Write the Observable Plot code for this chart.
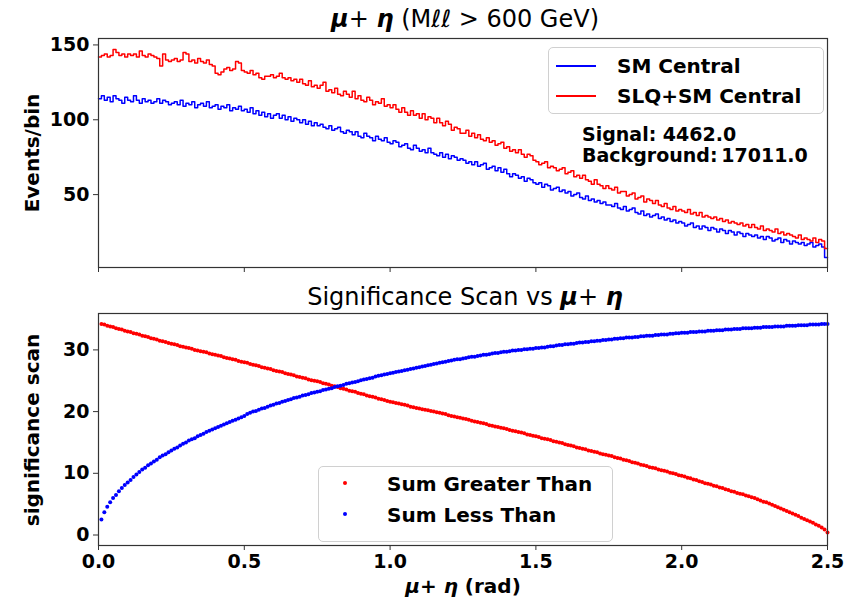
<!DOCTYPE html>
<html><head><meta charset="utf-8">
<script src="https://cdn.jsdelivr.net/npm/d3@7"></script>
<script src="https://cdn.jsdelivr.net/npm/@observablehq/plot@0.6"></script>
<style>
body{margin:0;background:#fff;}
#wrap{position:relative;width:850px;height:603px;font-family:"DejaVu Sans",sans-serif;overflow:hidden;background:#fff}
.abs{position:absolute;white-space:nowrap;color:#000;line-height:1}
.plot{position:absolute;left:0}
.ylab{position:absolute;white-space:nowrap;font-weight:bold;font-size:20px;line-height:1;transform:translate(-50%,-50%) rotate(-90deg)}
.legend{position:absolute;border:1px solid #d0d0d0;border-radius:5px;background:rgba(255,255,255,0.8)}
.bold{font-weight:bold}
</style></head><body><div id="wrap"></div>
<script>
// ---------- data ----------
const xDomain = [0, 2.5];
const xTicks = [0, 0.5, 1.0, 1.5, 2.0, 2.5];
const yTicksTop = [50, 100, 150];
const yTicksBottom = [0, 10, 20, 30];
const seriesTop = ["SM Central", "SLQ+SM Central"];
const seriesBottom = ["Sum Greater Than", "Sum Less Than"];
const signalTotal = "4462.0";
const backgroundTotal = "17011.0";

// SM Central (blue) events per bin, 250 bins of 0.01 rad
const smCentral = [
114,116,113,115,112,116,114,113,111,115,113,112,116,113,111,114,112,113,111,112,114,111,113,112,110,
111,112,110,113,109,111,110,112,108,110,111,109,112,108,109,110,107,109,108,110,106,108,107,109,106,
107,105,108,104,106,103,105,102,104,101,103,104,101,103,100,102,99,101,100,98,100,97,99,96,98,
96,97,95,94,96,93,94,95,92,91,93,92,90,92,89,88,91,89,88,86,89,87,86,88,85,
84,86,85,82,83,84,81,80,83,81,79,80,78,81,78,77,76,78,75,77,74,76,75,73,74,
73,71,72,70,72,69,70,71,67,68,69,66,68,65,67,64,62,64,63,61,62,59,61,60,58,
57,58,55,57,56,53,54,55,52,53,51,52,49,50,51,48,47,49,46,47,45,46,44,45,43,
43,42,44,41,40,42,39,40,41,38,37,39,36,37,35,36,37,34,35,33,34,32,33,31,32,
31,29,30,31,28,29,27,29,28,26,28,27,25,27,26,24,26,25,23,25,24,22,24,23,22,
23,21,22,20,22,21,19,20,21,18,20,19,17,19,18,17,18,16,17,18,15,16,17,15,8
];
// SLQ+SM Central (red) events per bin
const slqSmCentral = [
142,143,144,142,143,147,145,143,144,142,144,143,144,142,146,143,142,144,143,142,141,136,144,140,139,
140,141,139,140,145,144,139,140,138,141,139,138,140,137,136,131,130,132,134,135,133,134,139,138,133,
132,131,133,130,131,128,127,129,129,130,128,129,131,128,127,128,126,127,125,127,124,123,126,122,123,
121,123,125,119,120,118,121,117,116,119,117,115,119,114,116,113,112,115,113,110,112,111,114,109,110,
108,110,107,105,108,105,103,106,103,104,101,104,100,102,101,98,101,98,96,99,97,93,95,94,91,
91,93,89,91,88,90,87,86,88,85,86,83,84,85,81,82,79,80,78,80,77,75,77,76,73,
72,70,71,72,68,69,68,66,67,68,64,65,66,62,63,61,63,60,59,57,60,57,56,54,56,
54,53,55,51,52,52,49,50,51,47,48,49,45,47,46,44,46,43,42,44,41,40,42,39,40,
39,38,40,37,38,36,38,35,36,35,34,35,33,34,32,33,31,32,31,30,31,29,30,28,30,
28,27,29,26,27,26,25,27,24,25,23,24,23,22,21,23,20,21,20,19,21,18,20,19,14
];
// Significance scan, cut at each bin edge 0.01 ... 2.50
const sigGreater = [
34.2,34.1,33.9,33.8,33.7,33.5,33.4,33.3,33.1,33.0,32.9,32.7,32.6,32.5,32.3,32.2,32.1,31.9,31.8,31.7,31.5,31.4,31.3,31.1,31.0,
30.9,30.8,30.6,30.5,30.4,30.3,30.2,30.0,29.9,29.8,29.7,29.6,29.4,29.3,29.2,29.1,29.0,28.8,28.7,28.6,28.5,28.4,28.2,28.1,28.0,
27.9,27.7,27.6,27.5,27.4,27.2,27.1,27.0,26.9,26.7,26.6,26.5,26.4,26.2,26.1,26.0,25.9,25.7,25.6,25.5,25.4,25.2,25.1,25.0,24.9,
24.8,24.6,24.5,24.4,24.2,24.1,24.0,23.8,23.7,23.6,23.4,23.3,23.2,23.0,22.9,22.8,22.6,22.5,22.4,22.3,22.1,22.0,21.9,21.7,21.6,
21.5,21.4,21.3,21.2,21.1,21.0,20.8,20.7,20.6,20.5,20.4,20.3,20.2,20.1,20.0,19.9,19.8,19.7,19.6,19.4,19.3,19.2,19.1,19.0,18.9,
18.8,18.7,18.5,18.4,18.3,18.2,18.1,18.0,17.8,17.7,17.6,17.5,17.4,17.3,17.2,17.0,16.9,16.8,16.7,16.6,16.5,16.3,16.2,16.1,16.0,
15.9,15.7,15.6,15.5,15.4,15.2,15.1,15.0,14.9,14.7,14.6,14.5,14.4,14.2,14.1,14.0,13.9,13.7,13.6,13.5,13.4,13.2,13.1,13.0,12.9,
12.8,12.6,12.5,12.4,12.2,12.1,12.0,11.8,11.7,11.6,11.4,11.3,11.2,11.0,10.9,10.8,10.6,10.5,10.4,10.3,10.1,10.0,9.9,9.7,9.6,
9.5,9.3,9.2,9.0,8.9,8.7,8.6,8.4,8.3,8.2,8.0,7.9,7.7,7.6,7.4,7.3,7.1,7.0,6.8,6.7,6.6,6.4,6.3,6.1,6.0,
5.8,5.6,5.4,5.3,5.1,4.9,4.7,4.5,4.3,4.1,3.9,3.7,3.5,3.3,3.1,2.8,2.6,2.4,2.2,2.0,1.7,1.5,1.2,0.9,0.4
];
const sigLess = [
2.5,3.7,4.6,5.3,6.0,6.5,7.1,7.6,8.1,8.5,8.9,9.4,9.8,10.2,10.6,10.9,11.3,11.6,11.9,12.2,12.6,12.9,13.1,13.4,13.7,
14.0,14.2,14.5,14.8,15.0,15.3,15.5,15.7,16.0,16.2,16.4,16.7,16.9,17.1,17.3,17.5,17.7,17.9,18.1,18.3,18.5,18.7,18.9,19.1,19.3,
19.6,19.8,20.0,20.1,20.3,20.5,20.6,20.8,21.0,21.1,21.3,21.4,21.6,21.7,21.9,22.0,22.2,22.3,22.4,22.6,22.7,22.8,23.0,23.1,23.2,
23.3,23.5,23.6,23.7,23.8,24.0,24.1,24.2,24.3,24.5,24.6,24.7,24.8,24.9,25.1,25.2,25.3,25.4,25.5,25.7,25.8,25.9,26.0,26.1,26.2,
26.3,26.4,26.5,26.6,26.7,26.8,26.9,27.0,27.1,27.2,27.3,27.4,27.5,27.6,27.7,27.8,27.9,28.0,28.1,28.2,28.3,28.4,28.5,28.5,28.6,
28.7,28.8,28.9,28.9,29.0,29.1,29.2,29.2,29.3,29.4,29.5,29.5,29.6,29.7,29.7,29.8,29.9,29.9,30.0,30.0,30.1,30.1,30.2,30.2,30.3,
30.3,30.4,30.4,30.5,30.6,30.6,30.7,30.8,30.8,30.9,30.9,31.0,31.0,31.1,31.2,31.2,31.3,31.3,31.4,31.4,31.5,31.5,31.6,31.6,31.7,
31.7,31.8,31.8,31.9,31.9,32.0,32.0,32.0,32.1,32.1,32.2,32.2,32.3,32.3,32.3,32.4,32.4,32.5,32.5,32.5,32.6,32.6,32.7,32.7,32.8,
32.8,32.8,32.9,32.9,32.9,33.0,33.0,33.0,33.1,33.1,33.1,33.2,33.2,33.2,33.3,33.3,33.3,33.4,33.4,33.4,33.5,33.5,33.5,33.5,33.6,
33.6,33.6,33.7,33.7,33.7,33.7,33.8,33.8,33.8,33.8,33.9,33.9,33.9,33.9,34.0,34.0,34.0,34.0,34.1,34.1,34.1,34.1,34.2,34.2,34.2
];

// ---------- build ----------
const binWidth = (xDomain[1] - xDomain[0]) / smCentral.length;
function stepPoints(vals) {
  const pts = vals.map((v, i) => ({x: xDomain[0] + i * binWidth, y: v}));
  pts.push({x: xDomain[1], y: vals[vals.length - 1]});
  return pts;
}
const scanPoints = vals => vals.map((v, i) => ({x: xDomain[0] + (i + 1) * binWidth, y: v}));

const BLUE = "#0000ff", RED = "#ff0000", FRAME = "#333";
const baseStyle = {fontFamily: "DejaVu Sans, sans-serif", fontSize: "19px", fontWeight: "bold", color: "#000", background: "transparent", overflow: "visible"};

const topPlot = Plot.plot({
  width: 850, height: 280,
  marginLeft: 98, marginRight: 23, marginTop: 38, marginBottom: 13,
  x: {domain: xDomain},
  y: {domain: [1.3, 154.3]},
  style: baseStyle,
  marks: [
    Plot.line(stepPoints(smCentral), {x: "x", y: "y", curve: "step-after", stroke: BLUE, strokeWidth: 1.5}),
    Plot.line(stepPoints(slqSmCentral), {x: "x", y: "y", curve: "step-after", stroke: RED, strokeWidth: 1.5}),
    Plot.frame({stroke: FRAME, strokeWidth: 1.2}),
    Plot.axisX({ticks: xTicks, tickFormat: () => "", tickSize: 5, label: null, stroke: FRAME}),
    Plot.axisY({ticks: yTicksTop, tickSize: 5, tickPadding: 4, label: null, stroke: FRAME})
  ]
});

const bottomPlot = Plot.plot({
  width: 850, height: 313,
  marginLeft: 98, marginRight: 23, marginTop: 23, marginBottom: 58,
  x: {domain: xDomain},
  y: {domain: [-1.7, 35.9]},
  style: baseStyle,
  marks: [
    Plot.dot(scanPoints(sigGreater), {x: "x", y: "y", r: 2, fill: RED, stroke: null}),
    Plot.dot(scanPoints(sigLess), {x: "x", y: "y", r: 2, fill: BLUE, stroke: null}),
    Plot.frame({stroke: FRAME, strokeWidth: 1.2}),
    Plot.axisX({ticks: xTicks, tickFormat: d3.format(".1f"), tickSize: 5, tickPadding: 4, label: null, stroke: FRAME}),
    Plot.axisY({ticks: yTicksBottom, tickSize: 5, tickPadding: 4, label: null, stroke: FRAME})
  ]
});

const wrap = document.getElementById("wrap");
topPlot.classList.add("plot"); topPlot.style.top = "0px";
bottomPlot.classList.add("plot"); bottomPlot.style.top = "290px";
wrap.appendChild(topPlot);
wrap.appendChild(bottomPlot);

const mu = '<b><i>μ</i></b>', eta = '<b><i>η</i></b>';
const html = `
<div class="abs" style="left:465px;top:7px;transform:translateX(-50%);font-size:24px">${mu}+ ${eta} (Mℓℓ &gt; 600 GeV)</div>
<div class="abs" style="left:465px;top:285px;transform:translateX(-50%);font-size:24px">Significance Scan vs ${mu}+ ${eta}</div>
<div class="ylab" style="left:32px;top:153px">Events/bin</div>
<div class="ylab" style="left:32px;top:430px">significance scan</div>
<div class="abs bold" style="left:463px;top:576px;transform:translateX(-50%);font-size:20px"><i>μ</i>+ <i>η</i> (rad)</div>
<div class="legend" style="left:548px;top:47px;width:274px;height:65px"></div>
<div class="abs" style="left:556px;top:65px;width:40px;height:1.5px;background:${BLUE}"></div>
<div class="abs" style="left:556px;top:95px;width:40px;height:1.5px;background:${RED}"></div>
<div class="abs bold" style="left:617px;top:56px;font-size:20px">${seriesTop[0]}</div>
<div class="abs bold" style="left:617px;top:86px;font-size:20px">${seriesTop[1]}</div>
<div class="abs bold" style="left:582px;top:125px;font-size:19px;height:19px">Signal: ${signalTotal}</div>
<div class="abs bold" style="left:582px;top:146px;font-size:19px;height:19px">Background:&thinsp;${backgroundTotal}</div>
<div class="legend" style="left:318px;top:466px;width:293px;height:74px"></div>
<div class="abs" style="left:343px;top:481px;width:4px;height:4px;border-radius:50%;background:${RED}"></div>
<div class="abs" style="left:343px;top:512px;width:4px;height:4px;border-radius:50%;background:${BLUE}"></div>
<div class="abs bold" style="left:387px;top:474px;font-size:20px">${seriesBottom[0]}</div>
<div class="abs bold" style="left:387px;top:505px;font-size:20px">${seriesBottom[1]}</div>
`;
wrap.insertAdjacentHTML("beforeend", html);
</script>
</body></html>
